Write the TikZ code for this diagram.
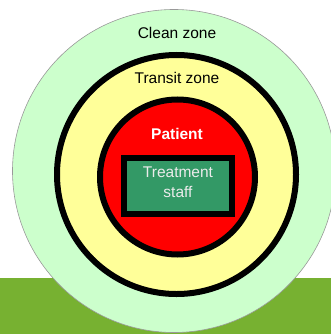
\documentclass[tikz,border=0pt]{standalone}
\usepackage{fontspec}
\setmainfont{Liberation Sans}
\definecolor{cleanc}{HTML}{CCFFCC}
\definecolor{transc}{HTML}{FFFF99}
\definecolor{patc}{HTML}{FF0000}
\definecolor{staffc}{HTML}{339966}
\definecolor{groundc}{HTML}{77B131}
\tikzset{
  ring/.style={draw=black, line width=6pt},
  lbl/.style={font=\fontsize{15.5}{18}\selectfont, anchor=base, inner sep=0pt},
}
\begin{document}
\begin{tikzpicture}[x=1pt,y=-1pt]
\useasboundingbox (0,0) rectangle (331,334);
\fill[groundc] (0,278) rectangle (331,334);
\draw[fill=cleanc, draw=gray!80, line width=0.6pt] (174,171) circle[radius=161.5];
\draw[ring, fill=transc] (176.5,174.5) circle[radius=119.5];
\draw[ring, fill=patc] (177.5,177) circle[radius=77.5];
\node[draw=black, line width=6pt, fill=staffc, minimum width=108pt, minimum height=56pt, inner sep=0pt] (staff) at (178,186) {};
\node[lbl] (clean) at (177,39) {Clean zone};
\node[lbl] (transit) at (177,83.5) {Transit zone};
\node[lbl, text=white, font=\fontsize{15.5}{18}\selectfont\bfseries] (patient) at (177,139.5) {Patient};
\node[lbl, text=white!92!black] (t1) at (178,177.7) {Treatment};
\node[lbl, text=white!92!black] (t2) at (178,197) {staff};
\end{tikzpicture}
\end{document}
